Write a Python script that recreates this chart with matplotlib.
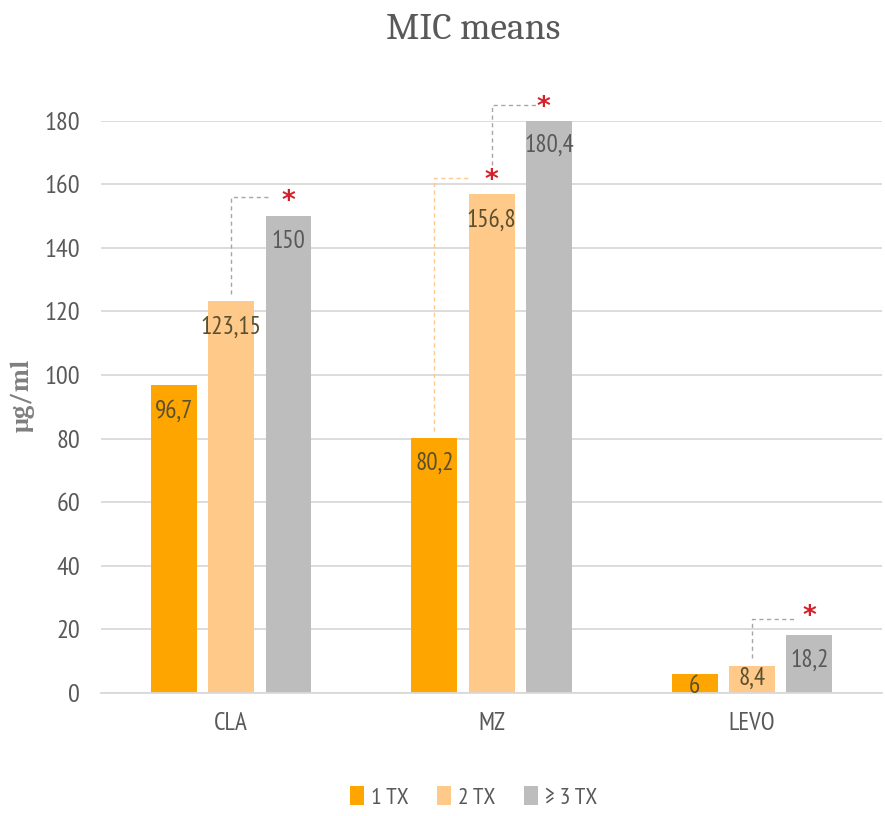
import matplotlib
matplotlib.use("Agg")
from matplotlib import pyplot as plt
import numpy as np

# --------------------------- DATA ---------------------------

drugs = ["CLA", "MZ", "LEVO"]
series = ["1 TX", "2 TX", "\u2265 3 TX"]
tx1 = [96.7, 80.2, 6]
tx2 = [123.15, 156.8, 8.4]
tx3 = [150, 180.4, 18.2]
labels1 = ["96,7", "80,2", "6"]
labels2 = ["123,15", "156,8", "8,4"]
labels3 = ["150", "180,4", "18,2"]
yticks = [0, 20, 40, 60, 80, 100, 120, 140, 160, 180]

colors = ["#FFA500", "#FFC98A", "#BDBDBD"]
label_colors = ["#5a5030", "#5a5030", "#595959"]

plt.rcParams['font.family'] = ['PT Sans Narrow', 'Roboto Condensed', 'Archivo Narrow',
                               'Carlito', 'DejaVu Sans']
serif = ['Caladea', 'Liberation Serif']

# --------------------------- FIGURE ---------------------------

fig = plt.figure(figsize=(8.85, 8.16), dpi=100)
ax = fig.add_axes([0.114, 0.151, 0.883, 0.701])

x = np.arange(len(drugs))
step = 0.22
width = 0.176

all_vals = [tx1, tx2, tx3]
all_labels = [labels1, labels2, labels3]
for i, (vals, labs) in enumerate(zip(all_vals, all_labels)):
    xs = x + (i - 1) * step
    ax.bar(xs, vals, width, color=colors[i], label=series[i], zorder=2)
    for xi, v, lab in zip(xs, vals, labs):
        ytop = v - 4.5 if v > 10 else v - 0.3
        ax.text(xi, ytop, lab, ha='center', va='top', fontsize=18,
                color=label_colors[i], zorder=3)

# --------------------------- SIGNIFICANCE BRACKETS ---------------------------

dash = dict(linestyle=(0, (3, 2.5)), linewidth=1, clip_on=False, zorder=1)
star = dict(ha='center', va='center', color='#D4202A', fontsize=19,
            fontweight='bold', clip_on=False, family='DejaVu Sans')

# CLA: 2 TX vs >=3 TX
ax.plot([0, 0, 0.14], [125.5, 156, 156], color='#A6A6A6', **dash)
ax.text(0.22, 154.5, "*", **star)
# MZ: 1 TX vs 2 TX
ax.plot([0.78, 0.78, 0.91], [82.5, 162, 162], color='#FBC98E', **dash)
ax.text(1.0, 161, "*", **star)
# MZ: 2 TX vs >=3 TX
ax.plot([1.0, 1.0, 1.18], [166, 185, 185], color='#A6A6A6', **dash)
ax.text(1.2, 184, "*", **star)
# LEVO: 2 TX vs >=3 TX
ax.plot([2.0, 2.0, 2.16], [11, 23.3, 23.3], color='#A6A6A6', **dash)
ax.text(2.22, 23.8, "*", **star)

# --------------------------- AXES STYLE ---------------------------

ax.set_xlim(-0.5, 2.5)
ax.set_ylim(0, 180)
ax.set_xticks(x)
ax.set_xticklabels(drugs, fontsize=18, color='#595959')
ax.set_yticks(yticks)
ax.set_yticklabels([str(t) for t in yticks], fontsize=19, color='#595959')
ax.tick_params(length=0)
ax.tick_params(axis='y', pad=15)
ax.tick_params(axis='x', pad=14)
ax.grid(axis='y', color='#D9D9D9', linewidth=1.3, zorder=0)
ax.set_axisbelow(True)
for s in ['top', 'right', 'left']:
    ax.spines[s].set_visible(False)
ax.spines['bottom'].set_color('#D9D9D9')
ax.spines['bottom'].set_linewidth(1.3)

ax.set_ylabel("\u03bcg/ml", fontsize=19, color='#7F7F7F', family=serif,
              fontweight='bold')
ax.yaxis.set_label_coords(-0.085, 0.52)

fig.text(0.535, 0.952, "MIC means", ha='center', va='baseline', fontsize=27,
         family=serif, color='#595959')

leg = fig.legend(loc='center', bbox_to_anchor=(0.535, 0.023), ncol=3, frameon=False,
                 fontsize=17, handlelength=0.6, handleheight=0.9, handletextpad=0.3,
                 columnspacing=1.2, labelcolor='#595959')

plt.savefig("out.png", dpi=100)
